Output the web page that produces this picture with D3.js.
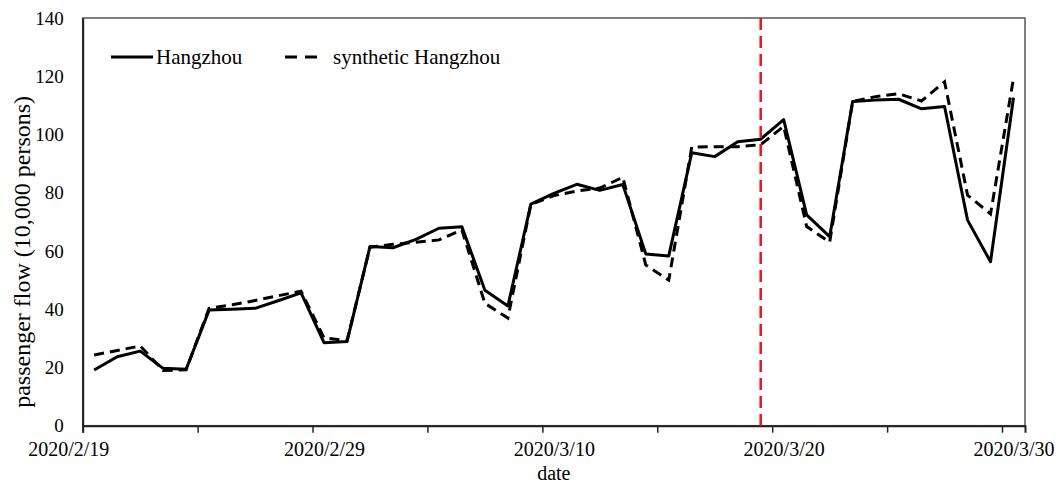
<!DOCTYPE html>
<html>
<head>
<meta charset="utf-8">
<script src="https://cdn.jsdelivr.net/npm/d3@7/dist/d3.min.js"></script>
<style>
  html, body { margin: 0; padding: 0; background: #fff; }
  svg { display: block; }
  text { font-family: "Liberation Serif", "Times New Roman", serif; fill: #000; }
</style>
</head>
<body>
<svg id="chart" width="1056" height="485"></svg>
<script>
// Daily passenger flow, 10,000 persons
const dates = [
  "2020/2/19","2020/2/20","2020/2/21","2020/2/22","2020/2/23","2020/2/24","2020/2/25",
  "2020/2/26","2020/2/27","2020/2/28","2020/2/29","2020/3/1","2020/3/2","2020/3/3",
  "2020/3/4","2020/3/5","2020/3/6","2020/3/7","2020/3/8","2020/3/9","2020/3/10",
  "2020/3/11","2020/3/12","2020/3/13","2020/3/14","2020/3/15","2020/3/16","2020/3/17",
  "2020/3/18","2020/3/19","2020/3/20","2020/3/21","2020/3/22","2020/3/23","2020/3/24",
  "2020/3/25","2020/3/26","2020/3/27","2020/3/28","2020/3/29","2020/3/30"
];
const hangzhou = [
  19.1, 23.7, 25.6, 19.7, 19.4, 39.7, 40.0, 40.3, 42.9, 45.6, 28.5, 28.9, 61.5, 61.1,
  64.0, 67.8, 68.3, 46.5, 41.1, 76.1, 79.8, 82.9, 80.8, 82.8, 59.0, 58.3, 93.7, 92.4,
  97.5, 98.4, 105.1, 72.4, 64.9, 111.3, 111.8, 112.1, 108.8, 109.6, 70.6, 56.3, 112.6
];
const syntheticHangzhou = [
  24.3, 25.8, 27.4, 19.0, 19.2, 40.3, 41.5, 43.0, 44.6, 46.2, 30.2, 29.2, 61.3, 62.3,
  63.0, 63.8, 67.2, 42.0, 37.0, 76.0, 79.0, 80.6, 81.6, 85.3, 55.2, 50.0, 95.7, 95.8,
  95.8, 96.5, 102.8, 68.4, 63.0, 111.3, 113.0, 114.0, 111.5, 118.1, 79.2, 72.7, 119.3
];
const yTicks = [0, 20, 40, 60, 80, 100, 120, 140];
const xLabelDates = ["2020/2/19", "2020/2/29", "2020/3/10", "2020/3/20", "2020/3/30"];
const interventionDate = "2020/3/19";
const seriesNames = ["Hangzhou", "synthetic Hangzhou"];

const parse = d3.utcParse("%Y/%m/%d");
const fmt = d3.utcFormat("%Y/%-m/%-d");
const halfDay = 12 * 3600 * 1000;
const mid = d => new Date(d.getTime() + halfDay);

const svg = d3.select("#chart");
const plotLeft = 82.7, plotRight = 1025, plotTop = 18, plotBottom = 425.7;

const start = parse(dates[0]);
const end = d3.utcDay.offset(parse(dates[dates.length - 1]), 1);

const x = d3.scaleUtc().domain([start, end]).range([plotLeft, plotRight]);
const y = d3.scaleLinear().domain([0, 140]).range([plotBottom, plotTop]);

// plot frame
svg.append("rect")
  .attr("x", plotLeft).attr("y", plotTop)
  .attr("width", plotRight - plotLeft).attr("height", plotBottom - plotTop)
  .attr("fill", "none").attr("stroke", "#555").attr("stroke-width", 1.5);

// y axis labels
const yAxis = svg.append("g")
  .attr("transform", `translate(${plotLeft},0)`)
  .call(d3.axisLeft(y).tickValues(yTicks).tickSize(0).tickPadding(19));
yAxis.select(".domain").attr("stroke", "#222").attr("stroke-width", 2);
yAxis.selectAll("text").style("font-size", "19px").attr("fill", "#000");

// x axis tick marks every five days
const tickDates = d3.utcDay.range(start, end, 5);
const xTicks = svg.append("g")
  .attr("transform", `translate(0,${plotBottom})`)
  .call(d3.axisBottom(x).tickValues(tickDates).tickSize(7).tickFormat(""));
xTicks.select(".domain").attr("stroke", "#222").attr("stroke-width", 2);
xTicks.selectAll(".tick line").attr("stroke", "#222").attr("stroke-width", 1.5);

// x axis date labels, centred on each day; the first one is nudged left clear of the "0"
const xLabels = svg.append("g")
  .attr("transform", `translate(0,${plotBottom})`)
  .call(d3.axisBottom(x)
    .tickValues(xLabelDates.map(s => mid(parse(s))))
    .tickSize(0).tickPadding(16)
    .tickFormat(d => fmt(d)));
xLabels.select(".domain").remove();
xLabels.selectAll("text").style("font-size", "20px").attr("fill", "#000");
xLabels.selectAll("text").filter((d, i) => i === 0).attr("dx", -26);

// axis titles
svg.append("text")
  .attr("x", (plotLeft + plotRight) / 2).attr("y", 480)
  .attr("text-anchor", "middle").style("font-size", "20px")
  .text("date");
svg.append("text")
  .attr("transform", `translate(30,${(plotTop + plotBottom) / 2 + 30}) rotate(-90)`)
  .attr("text-anchor", "middle").style("font-size", "24px")
  .text("passenger flow (10,000 persons)");

// series lines
const line = d3.line()
  .x((d, i) => x(mid(parse(dates[i]))))
  .y(d => y(d));

svg.append("path")
  .datum(syntheticHangzhou)
  .attr("d", line)
  .attr("fill", "none").attr("stroke", "#000").attr("stroke-width", 3)
  .attr("stroke-dasharray", "10,6");

svg.append("path")
  .datum(hangzhou)
  .attr("d", line)
  .attr("fill", "none").attr("stroke", "#000").attr("stroke-width", 3)
  .attr("stroke-linejoin", "round");

// policy date marker
const xi = x(mid(parse(interventionDate)));
svg.append("line")
  .attr("x1", xi).attr("x2", xi)
  .attr("y1", plotTop).attr("y2", plotBottom)
  .attr("stroke", "#e8141e").attr("stroke-width", 2.5)
  .attr("stroke-dasharray", "12,6");

// legend
const legend = svg.append("g");
legend.append("line")
  .attr("x1", 111).attr("x2", 153).attr("y1", 57).attr("y2", 57)
  .attr("stroke", "#000").attr("stroke-width", 3);
legend.append("text")
  .attr("x", 156).attr("y", 64).style("font-size", "21px")
  .text(seriesNames[0]);
legend.append("line")
  .attr("x1", 285).attr("x2", 325).attr("y1", 57).attr("y2", 57)
  .attr("stroke", "#000").attr("stroke-width", 3)
  .attr("stroke-dasharray", "12,8");
legend.append("text")
  .attr("x", 333).attr("y", 64).style("font-size", "21px")
  .text(seriesNames[1]);
</script>
</body>
</html>
